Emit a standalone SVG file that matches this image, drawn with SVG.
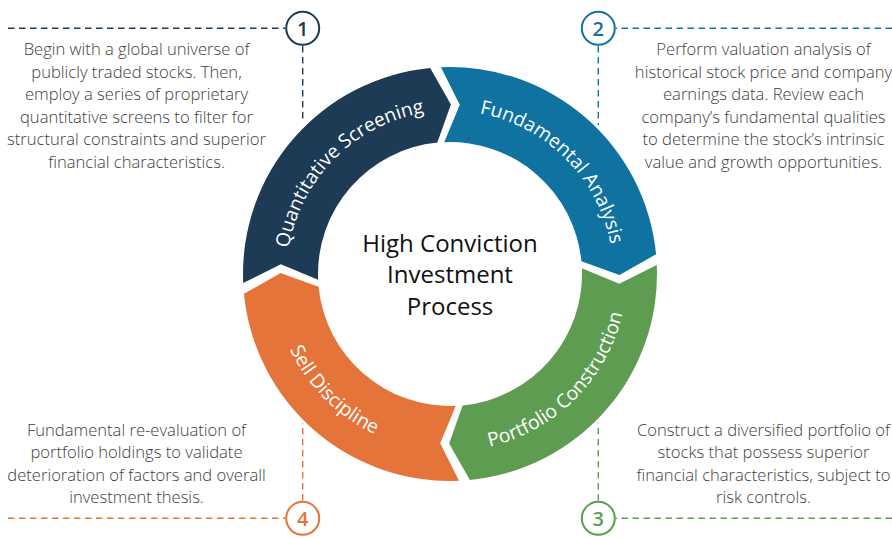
<svg xmlns="http://www.w3.org/2000/svg" width="892" height="538" viewBox="0 0 892 538">
<style>
.desc{font-family:"Open Sans","Noto Sans","Liberation Sans",sans-serif;font-weight:300;font-size:16.6px;fill:#3d3d3d;text-anchor:middle}
.lab{font-family:"Open Sans","Noto Sans","Liberation Sans",sans-serif;font-size:19.3px;fill:#ffffff;text-anchor:middle}
.num{font-family:"Open Sans","Noto Sans","Liberation Sans",sans-serif;font-weight:600;font-size:20px;text-anchor:middle}
.badge{fill:#ffffff;stroke-width:2}
.dash{fill:none;stroke-width:1.4;stroke-dasharray:6.5 4.5}
.title{font-family:"Open Sans","Noto Sans","Liberation Sans",sans-serif;font-size:24px;fill:#111111;text-anchor:middle}
.navy{fill:#1d3b54}.blue{fill:#0f72a1}.green{fill:#5e9c52}.orange{fill:#e4743a}
</style>
<defs>
<path id="arcQ" d="M291.59,316.45 A165,165 0 0 1 492.45,115.59"/>
<path id="arcF" d="M407.55,115.59 A165,165 0 0 1 608.41,316.45"/>
<path id="arcP" d="M404.19,444.97 A177,177 0 0 0 620.97,228.19"/>
<path id="arcS" d="M279.03,228.19 A177,177 0 0 0 495.81,444.97"/>
</defs>

<g id="connectors">
<path class="dash" stroke="#1d3b54" d="M8,28.3 H285 M302.7,46 V122"/>
<path class="dash" stroke="#0f72a1" d="M892,28.3 H616 M598.3,46 V125"/>
<path class="dash" stroke="#5e9c52" d="M892,518.3 H616 M598.3,500.5 V423"/>
<path class="dash" stroke="#e4743a" d="M8,518.3 H285 M302.7,500.5 V423"/>
</g>

<g id="seg-1-quantitative-screening">
<path class="navy" d="M243.20,283.03 A207,207 0 0 1 430.16,67.95 L450.89,104.50 L437.35,142.61 A132,132 0 0 0 318.13,279.76 L280.78,264.24 Z"/>
<text class="lab"><textPath href="#arcQ" startOffset="50%">Quantitative Screening</textPath></text>
</g>
<g id="seg-2-fundamental-analysis">
<path class="blue" d="M440.97,67.20 A207,207 0 0 1 656.05,254.16 L619.50,274.89 L581.39,261.35 A132,132 0 0 0 444.24,142.13 L459.76,104.78 Z"/>
<text class="lab"><textPath href="#arcF" startOffset="50%">Fundamental Analysis</textPath></text>
</g>
<g id="seg-3-portfolio-construction">
<path class="green" d="M656.80,264.97 A207,207 0 0 1 469.84,480.05 L449.11,443.50 L462.65,405.39 A132,132 0 0 0 581.87,268.24 L619.22,283.76 Z"/>
<text class="lab"><textPath href="#arcP" startOffset="50%">Portfolio Construction</textPath></text>
</g>
<g id="seg-4-sell-discipline">
<path class="orange" d="M459.03,480.80 A207,207 0 0 1 243.95,293.84 L280.50,273.11 L318.61,286.65 A132,132 0 0 0 455.76,405.87 L440.24,443.22 Z"/>
<text class="lab"><textPath href="#arcS" startOffset="50%">Sell Discipline</textPath></text>
</g>

<g id="center-title">
<text class="title" x="450" y="251.7">High Conviction</text>
<text class="title" x="450" y="283.3">Investment</text>
<text class="title" x="450" y="315">Process</text>
</g>

<g id="badge-1">
<circle class="badge" cx="302.7" cy="28.3" r="16.5" stroke="#1d3b54"/>
<text class="num" x="302.7" y="35.5" fill="#1d3b54">1</text>
</g>
<g id="badge-2">
<circle class="badge" cx="598.3" cy="28.3" r="16.5" stroke="#0f72a1"/>
<text class="num" x="598.3" y="35.5" fill="#0f72a1">2</text>
</g>
<g id="badge-3">
<circle class="badge" cx="598.3" cy="518.3" r="16.5" stroke="#5e9c52"/>
<text class="num" x="598.3" y="525.5" fill="#5e9c52">3</text>
</g>
<g id="badge-4">
<circle class="badge" cx="302.7" cy="518.3" r="16.5" stroke="#e4743a"/>
<text class="num" x="302.7" y="525.5" fill="#e4743a">4</text>
</g>

<g id="desc-1">
<text class="desc" x="136.5" y="55">Begin with a global universe of</text>
<text class="desc" x="136.5" y="77.5">publicly traded stocks. Then,</text>
<text class="desc" x="136.5" y="100">employ a series of proprietary</text>
<text class="desc" x="136.5" y="122.5">quantitative screens to filter for</text>
<text class="desc" x="136.5" y="145">structural constraints and superior</text>
<text class="desc" x="136.5" y="167.5">financial characteristics.</text>
</g>
<g id="desc-2">
<text class="desc" x="763.5" y="55">Perform valuation analysis of</text>
<text class="desc" x="763.5" y="77.5">historical stock price and company</text>
<text class="desc" x="763.5" y="100">earnings data. Review each</text>
<text class="desc" x="763.5" y="122.5">company’s fundamental qualities</text>
<text class="desc" x="763.5" y="145">to determine the stock’s intrinsic</text>
<text class="desc" x="763.5" y="167.5">value and growth opportunities.</text>
</g>
<g id="desc-3">
<text class="desc" x="763.5" y="436">Construct a diversified portfolio of</text>
<text class="desc" x="763.5" y="458.3">stocks that possess superior</text>
<text class="desc" x="763.5" y="480.7">financial characteristics, subject to</text>
<text class="desc" x="763.5" y="503">risk controls.</text>
</g>
<g id="desc-4">
<text class="desc" x="136.5" y="436">Fundamental re-evaluation of</text>
<text class="desc" x="136.5" y="458.3">portfolio holdings to validate</text>
<text class="desc" x="136.5" y="480.7">deterioration of factors and overall</text>
<text class="desc" x="136.5" y="503">investment thesis.</text>
</g>
</svg>
